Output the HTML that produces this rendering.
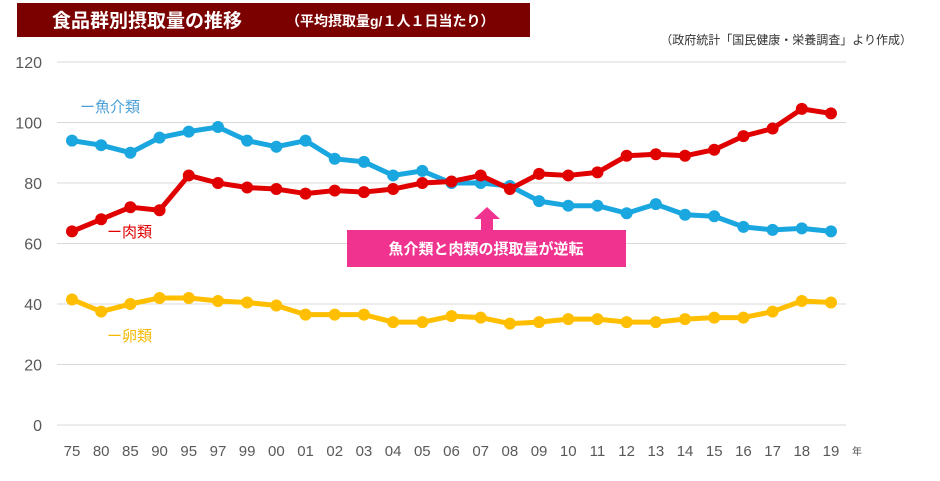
<!DOCTYPE html>
<html><head><meta charset="utf-8"><style>
body{margin:0;background:#fff;width:940px;height:476px;overflow:hidden;font-family:"Liberation Sans","Noto Sans CJK JP",sans-serif}
</style></head><body>
<svg width="940" height="476" style="font-family:'Liberation Sans','Noto Sans CJK JP',sans-serif">
<rect x="17" y="3" width="513" height="34" fill="#7b0000"/>
<text x="52" y="27" fill="#fff" font-size="19" font-weight="bold">食品群別摂取量の推移</text>
<text x="286" y="26" fill="#fff" font-size="14" font-weight="bold">（平均摂取量g/１人１日当たり）</text>
<text x="912" y="44" fill="#333" font-size="12" text-anchor="end">（政府統計「国民健康・栄養調査」より作成）</text>
<g id="grid"></g><g id="series"></g>
<text x="80" y="112" fill="#4a9fd8" font-size="15">ー魚介類</text>
<text x="107" y="237" fill="#e00000" font-size="15">ー肉類</text>
<text x="107" y="341" fill="#f5b800" font-size="15">ー卵類</text>
<polygon points="487,207 500,219 493,219 493,230 481,230 481,219 474,219" fill="#f0338f"/>
<rect x="347" y="230" width="279" height="37" fill="#f0338f"/>
<text x="486" y="254" fill="#fff" font-size="15" font-weight="bold" text-anchor="middle">魚介類と肉類の摂取量が逆転</text>
<text x="852" y="455" fill="#555" font-size="10">年</text>
</svg>
<script>
const categories=["75","80","85","90","95","97","99","00","01","02","03","04","05","06","07","08","09","10","11","12","13","14","15","16","17","18","19"];
const fish=[94,92.5,90,95,97,98.5,94,92,94,88,87,82.5,84,80,80,79,74,72.5,72.5,70,73,69.5,69,65.5,64.5,65,64];
const meat=[64,68,72,71,82.5,80,78.5,78,76.5,77.5,77,78,80,80.5,82.5,78,83,82.5,83.5,89,89.5,89,91,95.5,98,104.5,103];
const egg=[41.5,37.5,40,42,42,41,40.5,39.5,36.5,36.5,36.5,34,34,36,35.5,33.5,34,35,35,34,34,35,35.5,35.5,37.5,41,40.5];
const yTicks=[0,20,40,60,80,100,120];
const NS="http://www.w3.org/2000/svg";
const x=i=>72+i*(759/26);
const y=v=>425-v*(363/120);
const grid=document.getElementById('grid'),ser=document.getElementById('series');
function mk(t,a,p){const e=document.createElementNS(NS,t);for(const k in a)e.setAttribute(k,a[k]);p.appendChild(e);return e;}
yTicks.forEach(v=>{
 const l=mk('line',{x1:57,x2:846,y1:y(v),y2:y(v),stroke:'#d9d9d9','stroke-width':1},grid);
 
 
 const t=mk('text',{x:42,y:y(v)+6,'text-anchor':'end','font-size':16,fill:'#595959'},grid);
 t.textContent=v;
 
 
});
categories.forEach((c,i)=>{
 const t=mk('text',{x:x(i),y:456,'text-anchor':'middle','font-size':15,fill:'#595959'},grid);
 t.textContent=c;
 
 
});
[[fish,'#1aa7e0','fish'],[meat,'#e00000','meat'],[egg,'#ffbf00','egg']].forEach(([d,col,n])=>{
 const g=mk('g',{},ser);
 
 
 const p=mk('polyline',{points:d.map((v,i)=>x(i)+','+y(v)).join(' '),fill:'none',stroke:col,'stroke-width':5,'stroke-linejoin':'round'},g);
 
 
 d.forEach((v,i)=>{
  const c=mk('circle',{cx:x(i),cy:y(v),r:6,fill:col},g);
  
  
 });
});
</script>
</body></html>
